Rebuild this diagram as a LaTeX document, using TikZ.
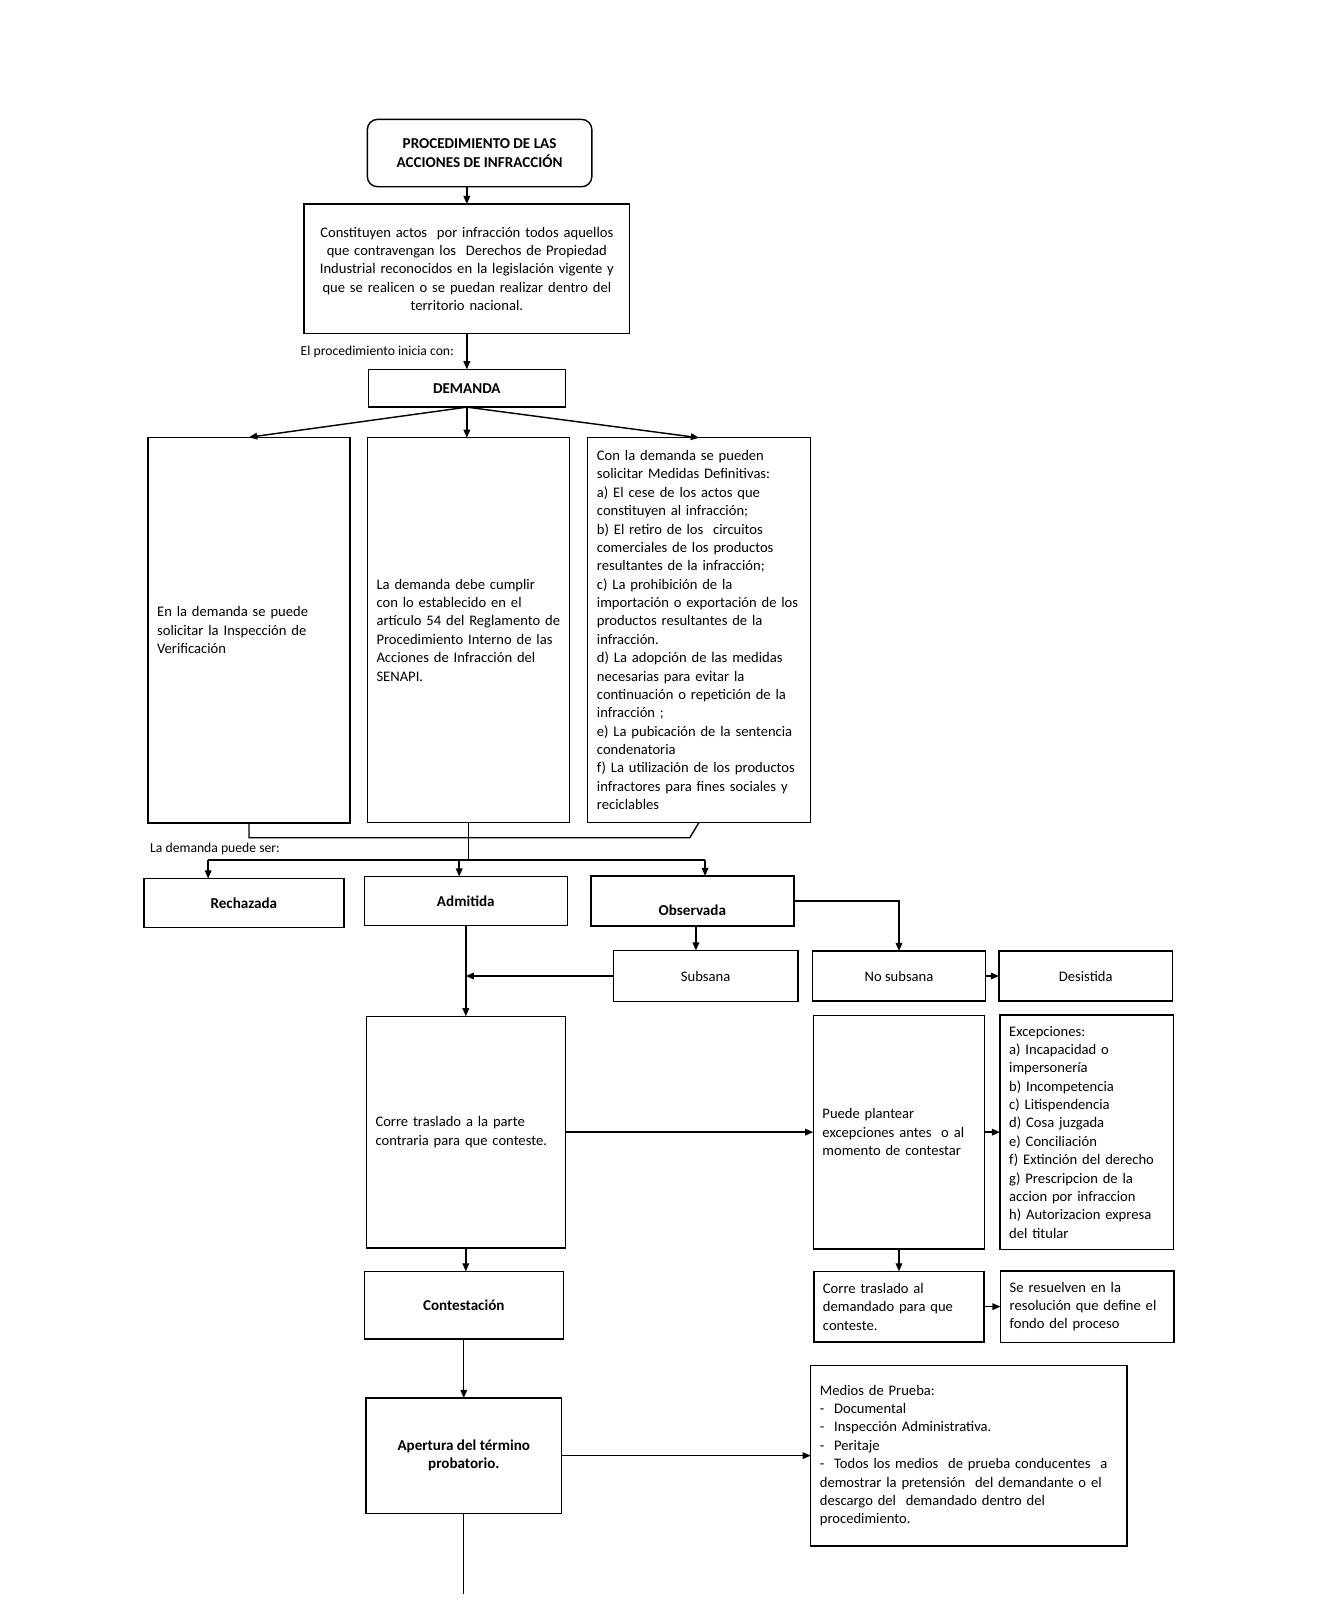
\documentclass[tikz,border=0pt]{standalone}
\usepackage{fontspec}
\setmainfont{Carlito}
\usetikzlibrary{arrows.meta, positioning}

\begin{document}
\begin{tikzpicture}[
  x=1pt, y=-1pt,
  plainbox/.style={draw, line width=1.4pt, inner xsep=9pt, inner ysep=0pt, outer sep=0pt,
                   font=\fontsize{14.3}{18}\selectfont},
  leftbox/.style={plainbox, align=left},
  boldbox/.style={plainbox, align=center, font=\fontsize{14.8}{18}\selectfont\bfseries},
  titlebox/.style={boldbox, rounded corners=10pt},
  lbl/.style={font=\fontsize{13.4}{16}\selectfont, inner sep=0pt},
  arr/.style={-{Triangle[length=8pt,width=6.5pt]}, line width=1.4pt},
  conn/.style={line width=1.4pt},
  node distance=17pt
]
\path[use as bounding box, fill=white] (0,0) rectangle (1298,1568);

\node[titlebox, minimum width=220pt, minimum height=66pt] (titulo) at (470,150) {PROCEDIMIENTO DE LAS\\ACCIONES DE INFRACCIÓN};

\node[plainbox, align=center, text width=301pt, minimum height=127pt, below=17pt of titulo, xshift=-12.5pt] (actos) {Constituyen actos~ por infracción todos aquellos\\
que contravengan los~ Derechos de Propiedad\\
Industrial reconocidos en la legislación vigente y\\
que se realicen o se puedan realizar dentro del\\
territorio nacional.};

\node[boldbox, minimum width=193pt, minimum height=37pt, below=35pt of actos] (demanda) {DEMANDA};

\node[leftbox, text width=180pt, minimum height=377pt, below=30pt of demanda, xshift=1.5pt] (requisitos) {La demanda debe cumplir\\
con lo establecido en el\\
artículo 54 del Reglamento de\\
Procedimiento Interno de las\\
Acciones de Infracción del\\
SENAPI.};

\node[leftbox, text width=180pt, minimum height=378pt, left=17pt of requisitos] (inspeccion) {En la demanda se puede\\
solicitar la Inspección de\\
Verificación};

\node[leftbox, text width=200pt, minimum height=377pt, right=18pt of requisitos] (medidas) {Con la demanda se pueden\\
solicitar Medidas Definitivas:\\
a) El cese de los actos que\\
constituyen al infracción;\\
b) El retiro de los~ circuitos\\
comerciales de los productos\\
resultantes de la infracción;\\
c) La prohibición de la\\
importación o exportación de los\\
productos resultantes de la\\
infracción.\\
d) La adopción de las medidas\\
necesarias para evitar la\\
continuación o repetición de la\\
infracción ;\\
e) La pubicación de la sentencia\\
condenatoria\\
f) La utilización de los productos\\
infractores para fines sociales y\\
reciclables};

\node[lbl, anchor=west] (puedeSer) at ([shift={(2,25)}]inspeccion.south west) {La demanda puede ser:};

% estados de la demanda
\node[boldbox, minimum width=199pt, minimum height=48pt, below=53pt of requisitos, xshift=-2.5pt] (admitida) {Admitida};
\node[boldbox, minimum width=196pt, minimum height=48pt, left=20pt of admitida, yshift=-2pt] (rechazada) {Rechazada};
\node[boldbox, minimum width=199pt, minimum height=49pt, right=23pt of admitida, text height=28pt, text depth=0pt] (observada) {Observada};

\node[plainbox, align=center, minimum width=181pt, minimum height=50pt, below=24pt of observada, xshift=13pt] (subsana) {Subsana};
\node[plainbox, align=center, minimum width=170pt, minimum height=49pt, right=14pt of subsana] (nosubsana) {No subsana};
\node[plainbox, align=center, minimum width=170pt, minimum height=49pt, right=13pt of nosubsana] (desistida) {Desistida};

\node[leftbox, text width=177pt, minimum height=227pt, below=89pt of admitida] (traslado) {Corre traslado a la parte\\
contraria para que conteste.};
\node[leftbox, text width=150pt, minimum height=229pt, right=243pt of traslado] (plantear) {Puede plantear\\
excepciones antes~ o al\\
momento de contestar};
\node[leftbox, text width=152pt, minimum height=230pt, right=15pt of plantear] (excepciones) {Excepciones:\\
a) Incapacidad o\\
impersonería\\
b) Incompetencia\\
c) Litispendencia\\
d) Cosa juzgada\\
e) Conciliación\\
f) Extinción del derecho\\
g) Prescripcion de la\\
accion por infraccion\\
h) Autorizacion expresa\\
del titular};

\node[boldbox, minimum width=195pt, minimum height=66pt, below=23pt of traslado, xshift=-2pt] (contestacion) {Contestación};
\node[leftbox, text width=149pt, minimum height=69pt, below=22pt of plantear] (aldemandado) {Corre traslado al\\
demandado para que\\
conteste.};
\node[leftbox, text width=152pt, minimum height=70pt, right=16pt of aldemandado] (resuelven) {Se resuelven en la\\
resolución que define el\\
fondo del proceso};

\node[boldbox, minimum width=192pt, minimum height=113pt, below=58pt of contestacion] (apertura) {Apertura del término\\probatorio.};
\node[leftbox, text width=292pt, minimum height=177pt, right=244pt of apertura] (medios) {Medios de Prueba:\\
-~ Documental\\
-~ Inspección Administrativa.\\
-~ Peritaje\\
-~ Todos los medios~ de prueba conducentes~ a\\
demostrar la pretensión~ del demandante o el\\
descargo del~ demandado dentro del\\
procedimiento.};

% conectores
\draw[arr] (titulo.south -| actos.north) -- (actos.north);
\draw[arr] (actos) -- (demanda) node[lbl, midway, left=12pt] (inicia) {El procedimiento inicia con:};
\draw[arr] (demanda.south) -- (inspeccion.north);
\draw[arr] (demanda.south) -- (demanda.south |- requisitos.north);
\draw[arr] (demanda.south) -- (medidas.north);

\draw[conn] (inspeccion.south) |- ([xshift=-9pt, yshift=-15pt]medidas.south) -- (medidas.south);
\draw[conn] (requisitos.south) -- ++(0,37) coordinate (bus);

\coordinate (aRech) at ([xshift=-35pt]rechazada.north);
\coordinate (aAdm) at ([xshift=-6.5pt]admitida.north);
\coordinate (aObs) at ([xshift=12.5pt]observada.north);
\draw[conn] (aRech |- bus) -- (aObs |- bus);
\draw[arr] (aRech |- bus) -- (aRech);
\draw[arr] (aAdm |- bus) -- (aAdm);
\draw[arr] (aObs |- bus) -- (aObs);

\coordinate (aSub) at ([xshift=3.5pt]observada.south);
\draw[arr] (aSub) -- (aSub |- subsana.north);
\draw[arr] (observada.east) -| (nosubsana.north);
\draw[arr] (nosubsana) -- (desistida);
\draw[arr] (subsana.west) -- (subsana.west -| admitida.south);

\draw[arr] (admitida) -- (traslado);
\draw[arr] (traslado) -- (plantear);
\draw[arr] (plantear) -- (excepciones);
\draw[arr] (traslado.south) -- (traslado.south |- contestacion.north);
\draw[arr] (plantear) -- (aldemandado);
\draw[arr] (aldemandado) -- (resuelven);
\draw[arr] (contestacion) -- (apertura);
\draw[arr] (apertura) -- (medios);
\draw[conn] (apertura.south) -- ++(0,79) coordinate (sigue);
\end{tikzpicture}
\end{document}
